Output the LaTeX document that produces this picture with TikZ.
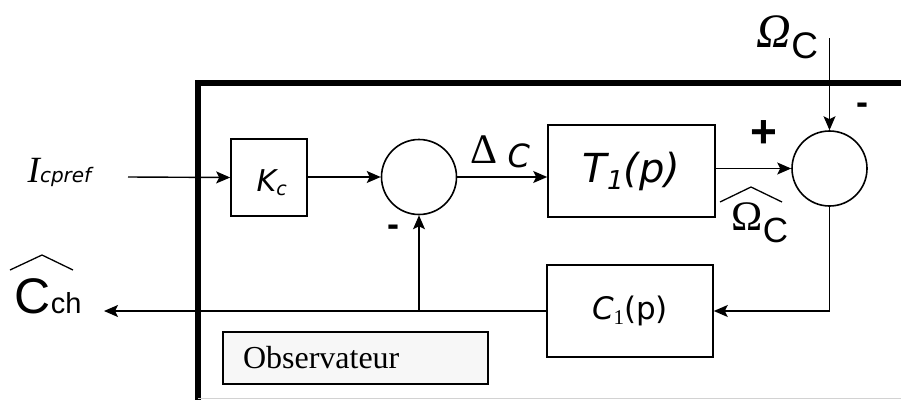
\documentclass[tikz,border=0pt]{standalone}
\usepackage{fontspec}
\setmainfont{Liberation Serif}
\newfontfamily\sansf{Liberation Sans}
\newfontfamily\handf{DejaVu Sans}
\usetikzlibrary{arrows.meta}
\newcommand\fsz[1]{\fontsize{#1}{#1}\selectfont}

\begin{document}
\begin{tikzpicture}[x=1pt, y=-1pt,
  line width=1.4pt,
  blk/.style={draw, line width=1.6pt, inner sep=0pt},
  sumnode/.style={draw, circle, line width=1.6pt, minimum size=75pt, inner sep=0pt},
  sig/.style={-{Stealth[length=14pt, width=12pt, inset=3pt]}},
  lbl/.style={inner sep=0pt, anchor=base west},
  sgn/.style={inner sep=0pt, font=\sansf\bfseries\fsz{36}},
]
\useasboundingbox (0,0) rectangle (901,399);

% observer frame (partly outside the page)
\draw[line width=6pt, line join=miter] (198,410) -- (198,83) -- (915,83);
\draw[gray!35, line width=1pt] (198,398.5) -- (901,398.5);

% blocks
\node[blk, minimum width=76pt, minimum height=77pt] (kc) at (269,177.5) {};
\node[lbl] (kclbl) at (256,191)
  {\handf\itshape\fsz{30}K\raisebox{-4pt}{\fsz{19}c}};
\node[sumnode] (s1) at (419,177) {};
\node[blk, minimum width=167pt, minimum height=92pt] (t1) at (631.5,171)
  {\handf\itshape\fsz{40}T\raisebox{-7pt}{\fsz{26}1}(p)};
\node[sumnode] (s2) at (829.5,168.5) {};
\node[blk, minimum width=166pt, minimum height=92pt] (c1) at (630,311)
  {{\handf\itshape\fsz{31}C}\raisebox{-5pt}{\fsz{21}1}{\handf\fsz{31}(p)}};
\node[blk, fill=gray!6, minimum width=265pt, minimum height=52pt,
      text width=225pt, inner xsep=20pt, align=left] (obs) at (355.5,358)
  {\fsz{32}Observateur};

% signal labels
\node[lbl] (iref) at (27,182)
  {\fsz{37}\itshape I{\handf\fsz{20}cpref}};
\node[lbl] (dc) at (470,163)
  {\fsz{42}Δ\hspace{10pt}{\handf\itshape\fsz{32}\raisebox{-4pt}{C}}};
\node[lbl] (wtop) at (756,47)
  {\fsz{48}\itshape Ω{\upshape\sansf\fsz{37}\raisebox{-11pt}{C}}};
\node[lbl] (west) at (731,230)
  {\fsz{42}Ω{\sansf\fsz{35}\raisebox{-12pt}{C}}};
\node[lbl] (cch) at (14,313)
  {\sansf\fsz{50}C{\fsz{29}ch}};
\node[sgn, font=\sansf\bfseries\fsz{46}] (plus) at (764,134) {+};
\node[sgn] (m2) at (862,109) {-};
\node[sgn] (m1) at (393,231) {-};

% hats over the estimated quantities
\draw[line width=1.3pt] (720,202) -- (751,187) -- (782,202);
\draw[line width=1.3pt] (10,270) -- (42,255) -- (73,270);

% free ends of the external signals
\coordinate (inp) at (128,177);
\coordinate (wref) at (829.5,38);
\coordinate (cout) at (104,311);

% connections
\draw[sig] (inp) -- (kc.west);
\draw[sig] (kc.east |- s1.west) -- (s1.west);
\draw[sig] (s1.east) -- (s1.east -| t1.west);
\draw[sig] (t1.east |- s2.west) -- (s2.west);
\draw[sig] (wref) -- (s2.north);
\draw[sig] (s2.south) |- (c1.east);
\draw[sig] (c1.west) -- (cout);
\draw[sig] (s1 |- c1.west) -- (s1.south);
\end{tikzpicture}
\end{document}
